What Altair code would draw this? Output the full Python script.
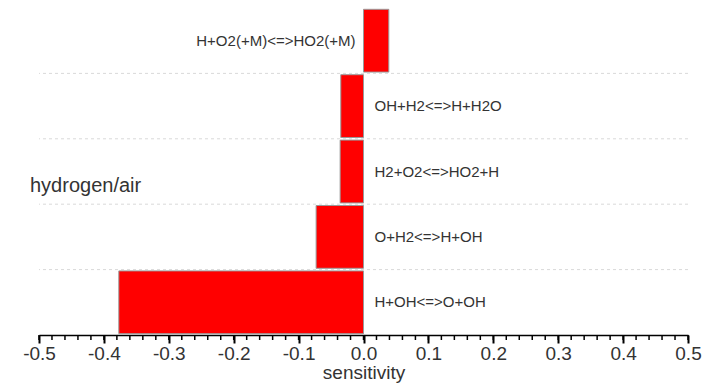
import altair as alt
import pandas as pd

reactions = ["H+O2(+M)<=>HO2(+M)", "OH+H2<=>H+H2O", "H2+O2<=>HO2+H", "O+H2<=>H+OH", "H+OH<=>O+OH"]
sensitivity = [0.039, -0.035, -0.036, -0.073, -0.377]
major_ticks = [-0.5, -0.4, -0.3, -0.2, -0.1, 0.0, 0.1, 0.2, 0.3, 0.4, 0.5]
minor_ticks = [round(-0.5 + 0.02 * k, 2) for k in range(51)]
grid_lines = [1, 2, 3, 4]
group_label = "hydrogen/air"

FONT = "Liberation Sans, Arial, sans-serif"
W, H = 649, 327

df = pd.DataFrame({"reaction": reactions, "sens": sensitivity, "i": list(range(len(reactions)))})

xscale = alt.Scale(domain=[-0.5, 0.5], nice=False, zero=False)
yscale = alt.Scale(domain=[0, 5], reverse=True, nice=False, zero=False)

base = alt.Chart(df)

bars = base.transform_calculate(
    y0="datum.i + 0.02", y1="datum.i + 0.98", zero="0"
).mark_bar(color="#ff0000", stroke="#9a9a9a", strokeWidth=1).encode(
    x=alt.X("sens:Q", scale=xscale,
            axis=alt.Axis(values=major_ticks, title="sensitivity",
                          labelExpr="replace(format(datum.value, '.1f'), '\u2212', '-')",
                          labelFont=FONT, labelFontSize=19, labelColor="#333333",
                          titleFont=FONT, titleFontSize=19, titleFontWeight="normal",
                          titleColor="#333333", titlePadding=0,
                          tickSize=8, tickWidth=2, tickColor="#000000",
                          domainColor="#000000", domainWidth=1.5, grid=False,
                          labelPadding=1, labelFlush=False)),
    x2="zero:Q",
    y=alt.Y("y0:Q", scale=yscale, axis=None),
    y2="y1:Q",
)

grid = alt.Chart(pd.DataFrame({"g": grid_lines})).mark_rule(
    color="#d9d9d9", strokeDash=[3, 3], strokeWidth=1
).encode(y=alt.Y("g:Q", scale=yscale, axis=None))

minor = alt.Chart(pd.DataFrame({"t": minor_ticks})).mark_rule(
    color="#000000", strokeWidth=1.5
).encode(x=alt.X("t:Q", scale=xscale), y=alt.value(H), y2=alt.value(H + 5))

pos_labels = base.transform_filter("datum.sens > 0").transform_calculate(
    yc="datum.i + 0.5", zero="0"
).mark_text(align="right", baseline="middle", dx=-8, font=FONT, fontSize=15, color="#333333").encode(
    x=alt.X("zero:Q", scale=xscale), y=alt.Y("yc:Q", scale=yscale), text="reaction:N"
)

neg_labels = base.transform_filter("datum.sens <= 0").transform_calculate(
    yc="datum.i + 0.5", zero="0"
).mark_text(align="left", baseline="middle", dx=11, font=FONT, fontSize=15, color="#333333").encode(
    x=alt.X("zero:Q", scale=xscale), y=alt.Y("yc:Q", scale=yscale), text="reaction:N"
)

group = alt.Chart(pd.DataFrame({"label": [group_label]})).mark_text(
    align="left", baseline="middle", font=FONT, fontSize=20, color="#333333"
).encode(x=alt.value(-9), y=alt.value(178), text="label:N")

chart = alt.layer(grid, bars, minor, pos_labels, neg_labels, group).properties(
    width=W, height=H,
    autosize=alt.AutoSizeParams(type="none"),
    padding={"left": 31, "top": 0, "right": 32, "bottom": 48},
).configure_view(stroke=None)

chart.save("out.html", embed_options={"renderer": "svg", "actions": False})
